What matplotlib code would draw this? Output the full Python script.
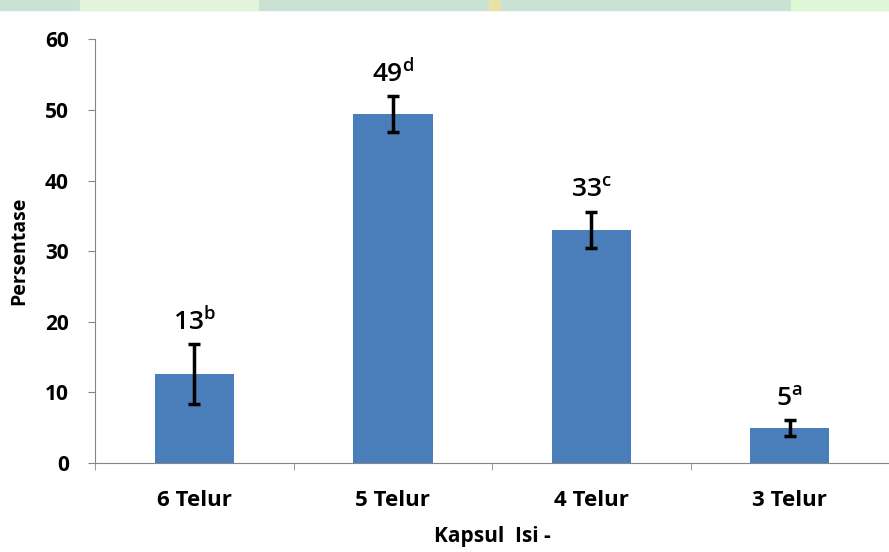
import numpy as np
import matplotlib.pyplot as plt
from matplotlib.patches import Rectangle

plt.rcParams['font.family'] = ['Open Sans', 'DejaVu Sans']
plt.rcParams['mathtext.fontset'] = 'custom'
plt.rcParams['mathtext.rm'] = 'Open Sans'
plt.rcParams['mathtext.default'] = 'regular'

# persentase kapsul menurut jumlah telur
kategori = ["6 Telur", "5 Telur", "4 Telur", "3 Telur"]
rata = [12.6, 49.4, 33.0, 4.95]
galat = [4.2, 2.5, 2.6, 1.1]
notasi = ["b", "d", "c", "a"]
yticks = [0, 10, 20, 30, 40, 50, 60]

fig = plt.figure(figsize=(8.89, 5.52), dpi=100)

# pita hijau pudar di tepi atas
fig.patches.append(Rectangle((0, 0.982), 1, 0.018, transform=fig.transFigure,
                             color="#c9e2d3", zorder=0))
fig.patches.append(Rectangle((0.09, 0.982), 0.2, 0.018, transform=fig.transFigure,
                             color="#e3f4dc", zorder=0))
fig.patches.append(Rectangle((0.89, 0.982), 0.11, 0.018, transform=fig.transFigure,
                             color="#def7d6", zorder=0))
fig.patches.append(Rectangle((0.55, 0.982), 0.012, 0.018, transform=fig.transFigure,
                             color="#e8e2a8", zorder=0))

ax = fig.add_axes([0.107, 0.161, 0.893, 0.768])
x = np.arange(len(kategori))
ax.bar(x, rata, width=0.4, color="#4a7ebb", zorder=2)
ax.errorbar(x, rata, yerr=galat, fmt="none", ecolor="black", elinewidth=2.5,
            capsize=4, capthick=2.5, zorder=3)

for xi, m, e, n in zip(x, rata, galat, notasi):
    ax.annotate(f"{m:.0f}$^{{{n}}}$", (xi, m + e), xytext=(0, 6),
                textcoords="offset points", ha="center", va="bottom",
                fontsize=19, fontweight="semibold")

ax.set_xlim(-0.5, 3.436)
ax.set_ylim(0, 60)
ax.set_yticks(yticks)
ax.set_yticklabels([str(t) for t in yticks], fontsize=15, fontweight="bold")
ax.set_xticks(x)
ax.set_xticklabels(kategori, fontsize=16, fontweight="bold")
ax.set_xticks(np.arange(-0.5, 4, 1), minor=True)
ax.tick_params(axis="x", which="major", length=0, pad=19)
ax.tick_params(axis="x", which="minor", length=5, color="#868686")
ax.tick_params(axis="y", length=5, color="#868686", pad=14)

for s in ["top", "right"]:
    ax.spines[s].set_visible(False)
for s in ["left", "bottom"]:
    ax.spines[s].set_color("#868686")

ax.set_ylabel("Persentase", fontsize=14, fontweight="bold", labelpad=11)
ax.set_xlabel("Kapsul  Isi -", fontsize=15, fontweight="bold", labelpad=11)

fig.savefig("out.png", dpi=100)
